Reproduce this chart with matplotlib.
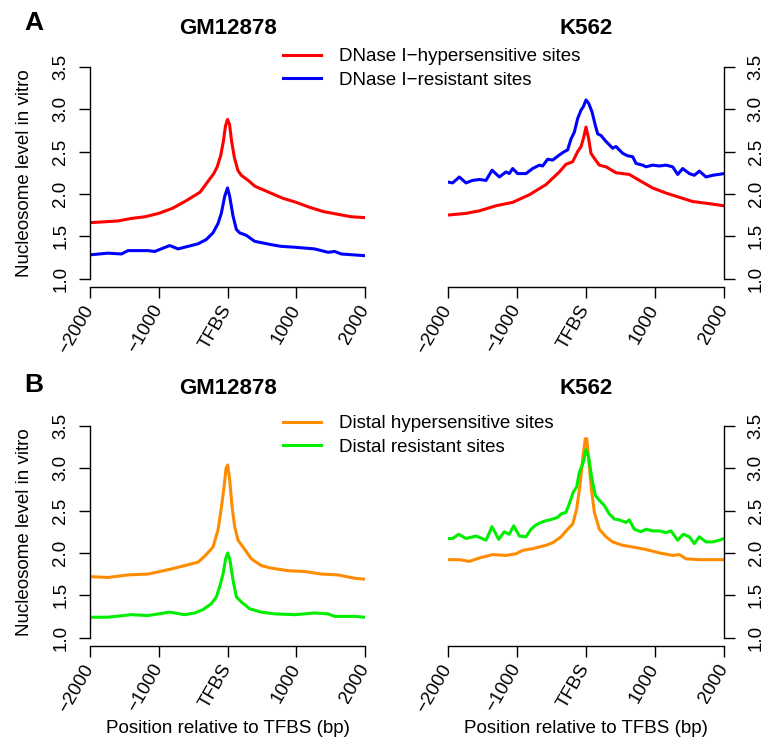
import matplotlib
matplotlib.use("Agg")
import matplotlib.pyplot as plt
from matplotlib.lines import Line2D

plt.rcParams['font.family'] = ['Liberation Sans', 'DejaVu Sans']

# ---------------- data ----------------
x_ticks = [-2000, -1000, 0, 1000, 2000]
x_tick_labels = ['\u22122000', '\u22121000', 'TFBS', '1000', '2000']
y_ticks = [1.0, 1.5, 2.0, 2.5, 3.0, 3.5]
y_tick_labels = ['1.0', '1.5', '2.0', '2.5', '3.0', '3.5']

# Panel A, GM12878
gm_hyp_x = [-2000, -1800, -1600, -1400, -1200, -1000, -800, -600, -400, -300, -200, -150,
            -100, -60, -30, 0, 30, 60, 100, 150, 200, 300, 400, 600, 800, 1000, 1200,
            1400, 1600, 1800, 2000]
gm_hyp_y = [1.66, 1.67, 1.68, 1.71, 1.73, 1.77, 1.83, 1.92, 2.02, 2.13, 2.24, 2.32,
            2.45, 2.62, 2.80, 2.88, 2.82, 2.62, 2.43, 2.28, 2.22, 2.16, 2.09, 2.02, 1.95,
            1.90, 1.84, 1.79, 1.76, 1.73, 1.72]
gm_res_x = [-2000, -1738, -1544, -1447, -1156, -1059, -840, -720, -575, -430, -310, -211,
            -138, -90, -41, 0, 32, 80, 129, 177, 274, 395, 638, 783, 977, 1268, 1462,
            1559, 1656, 2000]
gm_res_y = [1.28, 1.30, 1.29, 1.33, 1.33, 1.32, 1.39, 1.35, 1.38, 1.41, 1.46, 1.54,
            1.65, 1.77, 1.97, 2.07, 1.97, 1.74, 1.58, 1.54, 1.51, 1.44, 1.40, 1.38, 1.37,
            1.35, 1.31, 1.32, 1.29, 1.27]

# Panel A, K562
k_hyp_x = [-2000, -1739, -1546, -1304, -1063, -821, -580, -386, -290, -193, -121, -72,
           -39, 0, 39, 72, 121, 193, 290, 435, 628, 773, 966, 1159, 1353, 1546, 1739, 2000]
k_hyp_y = [1.75, 1.77, 1.80, 1.86, 1.90, 1.99, 2.11, 2.26, 2.35, 2.38, 2.50, 2.56,
           2.65, 2.79, 2.65, 2.48, 2.42, 2.34, 2.32, 2.25, 2.23, 2.16, 2.07, 2.01, 1.96,
           1.91, 1.89, 1.86]
k_res_x = [-2000, -1932, -1836, -1739, -1643, -1546, -1449, -1362, -1256, -1159, -1111,
           -1063, -990, -870, -773, -676, -628, -556, -483, -386, -314, -266, -217, -169,
           -121, -72, -39, 0, 39, 87, 135, 169, 217, 290, 386, 435, 531, 604, 676, 725,
           821, 870, 966, 1063, 1159, 1256, 1329, 1401, 1498, 1570, 1643, 1739, 1836, 2000]
k_res_y = [2.14, 2.13, 2.20, 2.13, 2.16, 2.17, 2.16, 2.28, 2.20, 2.26, 2.24,
           2.30, 2.24, 2.24, 2.30, 2.34, 2.33, 2.41, 2.40, 2.46, 2.50, 2.52, 2.65, 2.73,
           2.89, 2.99, 3.03, 3.11, 3.07, 2.97, 2.81, 2.71, 2.69, 2.62, 2.54, 2.56, 2.48,
           2.45, 2.44, 2.36, 2.34, 2.32, 2.34, 2.33, 2.34, 2.32, 2.23, 2.30, 2.24, 2.22,
           2.27, 2.20, 2.22, 2.24]

# Panel B, GM12878
gm_dhyp_x = [-2000, -1738, -1447, -1156, -817, -623, -430, -333, -211, -138, -90, -50,
             -21, 3, 32, 66, 104, 153, 225, 347, 492, 638, 880, 1123, 1365, 1607, 1850, 2000]
gm_dhyp_y = [1.72, 1.71, 1.74, 1.75, 1.81, 1.85, 1.89, 1.96, 2.07, 2.27, 2.53, 2.78,
             3.00, 3.04, 2.86, 2.55, 2.31, 2.15, 2.07, 1.93, 1.85, 1.82, 1.79, 1.78, 1.75,
             1.74, 1.70, 1.69]
gm_dres_x = [-2000, -1738, -1400, -1156, -840, -623, -477, -356, -235, -162, -114, -65,
             -27, 3, 37, 80, 129, 202, 323, 492, 686, 977, 1268, 1462, 1559, 1850, 2000]
gm_dres_y = [1.24, 1.24, 1.27, 1.26, 1.30, 1.27, 1.29, 1.33, 1.40, 1.48, 1.60, 1.75,
             1.93, 2.00, 1.91, 1.68, 1.48, 1.42, 1.34, 1.30, 1.28, 1.27, 1.29, 1.28, 1.25,
             1.25, 1.24]

# Panel B, K562
k_dhyp_x = [-2000, -1836, -1691, -1546, -1353, -1159, -1014, -918, -773, -580, -483,
            -362, -266, -193, -135, -87, -48, -10, 10, 39, 77, 121, 193, 290, 386, 531,
            676, 870, 1063, 1256, 1353, 1449, 1643, 2000]
k_dhyp_y = [1.92, 1.92, 1.90, 1.94, 1.98, 1.97, 1.99, 2.03, 2.05, 2.09, 2.12,
            2.19, 2.28, 2.34, 2.52, 2.80, 3.11, 3.35, 3.35, 3.11, 2.76, 2.48, 2.28, 2.19,
            2.13, 2.09, 2.07, 2.04, 2.00, 1.97, 1.98, 1.93, 1.92, 1.92]
k_dres_x = [-2000, -1932, -1846, -1739, -1594, -1449, -1362, -1266, -1184, -1111, -1048,
            -966, -870, -797, -725, -652, -580, -483, -411, -362, -290, -242, -184, -135,
            -97, -39, 0, 39, 87, 135, 193, 266, 338, 411, 483, 580, 628, 700, 797, 870,
            966, 1063, 1159, 1232, 1329, 1411, 1498, 1570, 1643, 1739, 1836, 1932, 2000]
k_dres_y = [2.17, 2.17, 2.22, 2.17, 2.20, 2.15, 2.31, 2.16, 2.25, 2.22, 2.32,
            2.20, 2.19, 2.28, 2.33, 2.36, 2.38, 2.40, 2.42, 2.46, 2.48, 2.58, 2.72, 2.78,
            2.95, 3.07, 3.22, 3.13, 2.87, 2.68, 2.62, 2.56, 2.46, 2.40, 2.39, 2.36, 2.39,
            2.28, 2.25, 2.28, 2.26, 2.26, 2.24, 2.26, 2.15, 2.22, 2.19, 2.11, 2.19, 2.13,
            2.13, 2.15, 2.17]

legend_A = ['DNase I\u2212hypersensitive sites', 'DNase I\u2212resistant sites']
legend_B = ['Distal hypersensitive sites', 'Distal resistant sites']
colors_A = ['#FF0000', '#0000FF']
colors_B = ['#FF8C00', '#00EE00']

# ---------------- figure ----------------
W, H = 766, 739
fig = plt.figure(figsize=(W / 100, H / 100), dpi=100)

FS = 13.5
LW = 2.2


def px_axes(x0, x1, ybot, ytop):
    return [x0 / W, 1 - ybot / H, (x1 - x0) / W, (ybot - ytop) / H]


def style(ax, side, xlabel=None):
    ax.set_xlim(-2000, 2000)
    ax.set_ylim(0.9, 3.6)
    ax.spines['top'].set_visible(False)
    ax.spines['bottom'].set_bounds(-2000, 2000)
    if side == 'left':
        ax.spines['right'].set_visible(False)
        ax.spines['left'].set_bounds(1.0, 3.5)
    else:
        ax.spines['left'].set_visible(False)
        ax.spines['right'].set_bounds(1.0, 3.5)
        ax.yaxis.tick_right()
    for s in ax.spines.values():
        s.set_linewidth(1.0)
    ax.set_xticks(x_ticks)
    ax.set_xticklabels(x_tick_labels, fontsize=FS)
    ax.set_yticks(y_ticks)
    ax.set_yticklabels(y_tick_labels, fontsize=FS, rotation=90, va='center')
    ax.tick_params(axis='both', length=8, width=1.0)
    ax.tick_params(axis='y', pad=7 if side == 'left' else 9)
    ax.tick_params(axis='x', pad=6)
    for lab in ax.get_xticklabels():
        lab.set_rotation(60)
        lab.set_ha('right')
        lab.set_va('center')
        lab.set_rotation_mode('anchor')
    if xlabel:
        ax.set_xlabel(xlabel, fontsize=FS, labelpad=3)


axA1 = fig.add_axes(px_axes(90, 365, 287, 58.5))
axA2 = fig.add_axes(px_axes(448, 724, 287, 58.5))
axB1 = fig.add_axes(px_axes(90, 365, 646, 417.5))
axB2 = fig.add_axes(px_axes(448, 724, 646, 417.5))

axA1.plot(gm_hyp_x, gm_hyp_y, color=colors_A[0], lw=LW)
axA1.plot(gm_res_x, gm_res_y, color=colors_A[1], lw=LW)
axA2.plot(k_hyp_x, k_hyp_y, color=colors_A[0], lw=LW)
axA2.plot(k_res_x, k_res_y, color=colors_A[1], lw=LW)
axB1.plot(gm_dhyp_x, gm_dhyp_y, color=colors_B[0], lw=LW)
axB1.plot(gm_dres_x, gm_dres_y, color=colors_B[1], lw=LW)
axB2.plot(k_dhyp_x, k_dhyp_y, color=colors_B[0], lw=LW)
axB2.plot(k_dres_x, k_dres_y, color=colors_B[1], lw=LW)

style(axA1, 'left')
style(axA2, 'right')
style(axB1, 'left', 'Position relative to TFBS (bp)')
style(axB2, 'right', 'Position relative to TFBS (bp)')

for ax in (axA1, axB1):
    ax.set_ylabel('Nucleosome level in vitro', fontsize=FS, labelpad=14)

# titles
fig.text(228 / W, 1 - 29 / H, 'GM12878', fontsize=16, fontweight='bold', ha='center', va='center')
fig.text(586 / W, 1 - 29 / H, 'K562', fontsize=16, fontweight='bold', ha='center', va='center')
fig.text(228 / W, 1 - 388 / H, 'GM12878', fontsize=16, fontweight='bold', ha='center', va='center')
fig.text(586 / W, 1 - 388 / H, 'K562', fontsize=16, fontweight='bold', ha='center', va='center')
fig.text(34 / W, 1 - 23 / H, 'A', fontsize=19, fontweight='bold', ha='center', va='center')
fig.text(34 / W, 1 - 385 / H, 'B', fontsize=19, fontweight='bold', ha='center', va='center')


# legends
def add_legend(labels, colors, ytop):
    handles = [Line2D([0], [0], color=c, lw=LW) for c in colors]
    fig.legend(handles, labels, loc='upper left', bbox_to_anchor=(283 / W, 1 - ytop / H),
               frameon=False, fontsize=FS, handlelength=2.0, handletextpad=1.0,
               labelspacing=0.35, borderpad=0, borderaxespad=0)


add_legend(legend_A, colors_A, 48)
add_legend(legend_B, colors_B, 415)

fig.savefig('out.png', dpi=100)
